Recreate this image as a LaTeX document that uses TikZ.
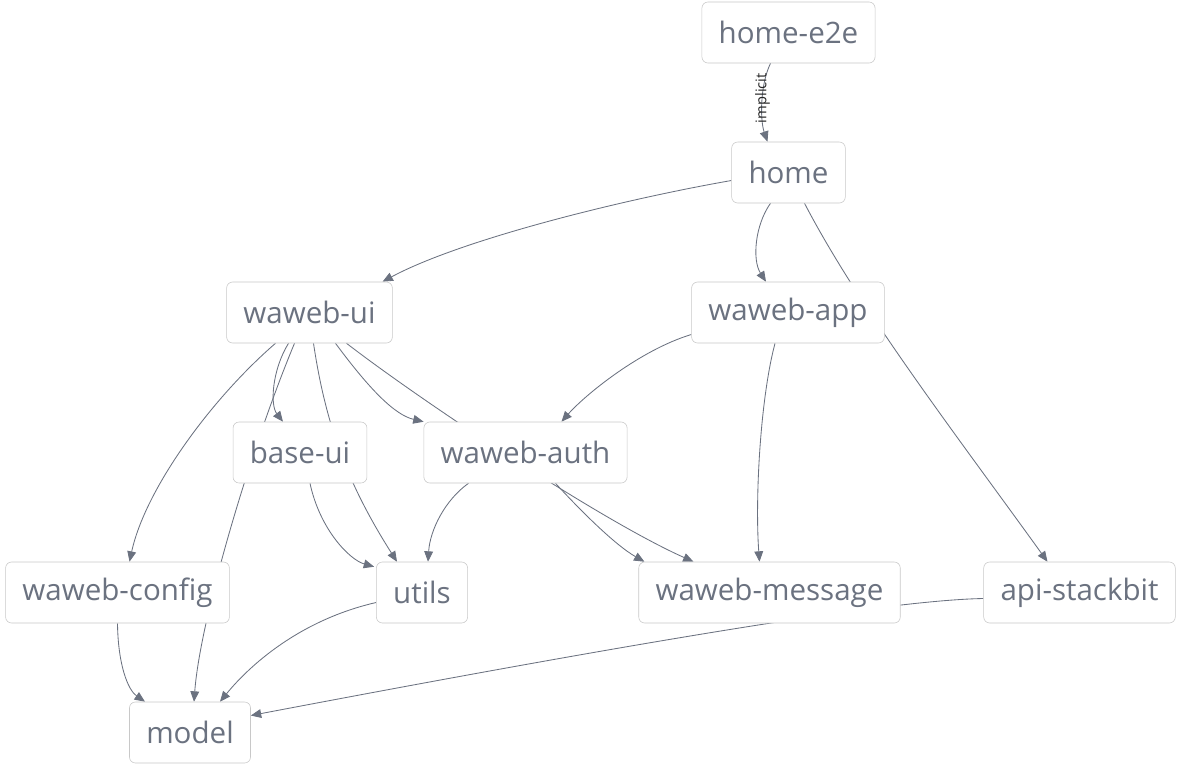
\documentclass[tikz,border=0pt]{standalone}
\usepackage{fontspec}
\setmainfont{Open Sans}
\usepackage{tikz}
\usetikzlibrary{arrows.meta, positioning, calc, backgrounds}

\definecolor{textgray}{RGB}{107,114,128}
\definecolor{linegray}{RGB}{107,114,128}
\definecolor{boxgray}{RGB}{200,200,200}

\begin{document}
\begin{tikzpicture}[
        x=0.025cm, y=-0.025cm,
        pkg/.style={rectangle, draw=boxgray, fill=white, rounded corners=1.5mm, minimum height=1.525cm, inner xsep=0.42cm, font=\fontsize{21}{24}\selectfont, text=textgray},
        dep/.style={draw=linegray, line width=0.6pt, -{Triangle[length=2.6mm, width=2.2mm]}}
    ]
        \useasboundingbox (0,0) rectangle (1180,765);

        % Nodes
        \node[pkg] (e2e) at (788.5, 32.5) {home-e2e};
        \node[pkg] (home) at (788.5, 172.5) {home};
        \node[pkg] (wui) at (309.5, 312.5) {waweb-ui};
        \node[pkg] (app) at (788, 312.5) {waweb-app};
        \node[pkg] (base) at (300, 452.5) {base-ui};
        \node[pkg] (auth) at (525.5, 452.5) {waweb-auth};
        \node[pkg] (config) at (117.5, 592.5) {waweb-config};
        \node[pkg] (utils) at (422, 592.5) {utils};
        \node[pkg] (msg) at (769.5, 592.5) {waweb-message};
        \node[pkg] (stackbit) at (1079.5, 592.5) {api-stackbit};
        \node[pkg] (model) at (190, 732.5) {model};

        % Dependencies (behind the boxes)
        \begin{scope}[on background layer]
        \draw[dep] ($(e2e.south)+(-18,0)$) .. controls (760,85) and (760,120) .. ($(home.north)+(-21,0)$)
            node[pos=0.45, rotate=90, font=\fontsize{10.5}{12}\selectfont, text=black!85] {implicit};

        \draw[dep] ($(home.west)+(0,8)$) .. controls (620,200) and (460,240) .. ($(wui.north)+(73,0)$);
        \draw[dep] ($(home.south)+(-18,0)$) .. controls (755,225) and (752,260) .. ($(app.north)+(-22,0)$);
        \draw[dep] ($(home.south)+(16,0)$) .. controls (860,310) and (960,440) .. ($(stackbit.north)+(-32,0)$);

        \draw[dep] ($(app.west)+(0,22)$) .. controls (640,350) and (585,395) .. ($(auth.north)+(36,0)$);
        \draw[dep] ($(app.south)+(-13,0)$) .. controls (760,400) and (755,500) .. ($(msg.north)+(-10,0)$);

        \draw[dep] ($(wui.south)+(-34,0)$) .. controls (210,400) and (145,490) .. ($(config.north)+(12,0)$);
        \draw[dep] ($(wui.south)+(-21,0)$) .. controls (272,370) and (270,405) .. ($(base.north)+(-17,0)$);
        \draw[dep] ($(wui.south)+(-15,0)$) .. controls (250,450) and (200,620) .. ($(model.north)+(4,0)$);
        \draw[dep] ($(wui.south)+(4,0)$) .. controls (325,420) and (345,480) .. ($(utils.north)+(-25,0)$);
        \draw[dep] ($(wui.south)+(26,0)$) .. controls (370,390) and (395,415) .. (auth.north west);
        \draw[dep] ($(wui.south)+(37,0)$) .. controls (420,400) and (600,520) .. ($(msg.north)+(-76,0)$);

        \draw[dep] ($(base.south)+(10,0)$) .. controls (320,530) and (350,560) .. ($(utils.north west)+(-2,5)$);
        \draw[dep] ($(auth.south)+(-57,0)$) .. controls (445,500) and (430,530) .. ($(utils.north)+(6,0)$);
        \draw[dep] ($(auth.south)+(30,0)$) .. controls (580,510) and (615,545) .. ($(msg.north west)+(6,0)$);

        \draw[dep] ($(stackbit.west)+(0,6)$) .. controls (900,600) and (690,632) .. ($(model.east)+(0,-17)$);
        \draw[dep] ($(utils.west)+(0,10)$) .. controls (300,620) and (250,665) .. ($(model.north)+(30,0)$);
        \draw[dep] (config.south) .. controls (118,665) and (128,690) .. ($(model.north)+(-45,0)$);
        \end{scope}
    \end{tikzpicture}
\end{document}
